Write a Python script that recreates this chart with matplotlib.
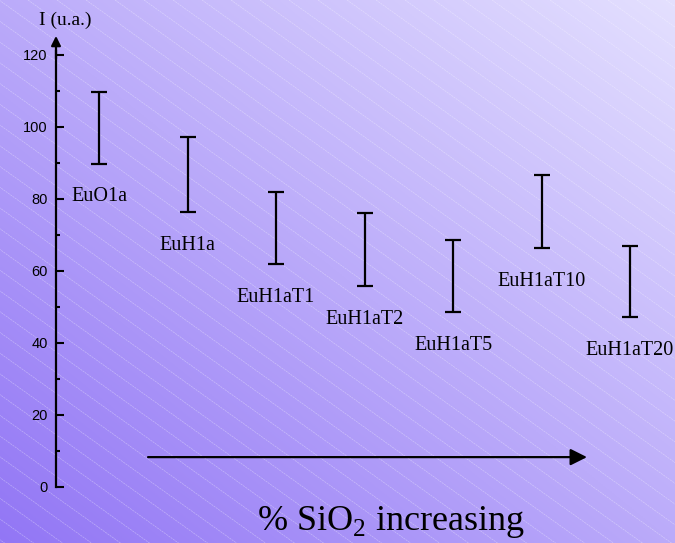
import numpy as np
import matplotlib
matplotlib.use('Agg')
import matplotlib.pyplot as plt
from matplotlib.lines import Line2D

# samples and intensity ranges (u.a.)
samples = ['EuO1a', 'EuH1a', 'EuH1aT1', 'EuH1aT2', 'EuH1aT5', 'EuH1aT10', 'EuH1aT20']
low = [89.8, 76.4, 61.9, 55.8, 48.6, 66.4, 47.2]
high = [109.8, 97.2, 81.9, 76.1, 68.6, 86.7, 67.0]
yticks = [0, 20, 40, 60, 80, 100, 120]

plt.rcParams['mathtext.fontset'] = 'custom'
plt.rcParams['mathtext.rm'] = 'Liberation Serif'

W, H = 675, 543
fig = plt.figure(figsize=(W / 100, H / 100), dpi=100)

# background: diagonal gradient with faint white hatch lines
bg = fig.add_axes([0, 0, 1, 1])
bg.set_axis_off()
xx, yy = np.meshgrid(np.linspace(0, 1, 300), np.linspace(0, 1, 240))
t = (xx + yy) / 2
c0 = np.array([146, 118, 245]) / 255
c1 = np.array([228, 224, 255]) / 255
img = c0[None, None, :] * (1 - t[..., None]) + c1[None, None, :] * t[..., None]
bg.imshow(img, origin='lower', extent=[0, 1, 0, 1], aspect='auto')
bg.set_xlim(0, 1)
bg.set_ylim(0, 1)
slope = 0.715
for x0 in np.arange(-900, W + 30, 29):
    xs = np.array([x0, x0 + 1200])
    ys = slope * (xs - x0)
    bg.add_line(Line2D(xs / W, 1 - ys / H, color='white', lw=0.5, alpha=0.35,
                       ls=(0, (3, 1))))

# main axes
ax = fig.add_axes([0, 0, 1, 1])
ax.patch.set_alpha(0)
x = np.arange(len(samples))
xmin = -99 / 88.5
ax.set_xlim(xmin, xmin + W / 88.5)
ax.set_ylim((487 - H) / 3.6, 487 / 3.6)

mid = (np.array(low) + np.array(high)) / 2
err = (np.array(high) - np.array(low)) / 2
ax.errorbar(x, mid, yerr=err, fmt='none', ecolor='black', elinewidth=1.6,
            capsize=6, capthick=1.6)

for xi, name, lo in zip(x, samples, low):
    ax.text(xi, lo - 9.2, name, ha='center', va='center', fontsize=14.5,
            family='Liberation Serif')

x_axis = -43 / 88.5
for s in ['top', 'right', 'bottom']:
    ax.spines[s].set_visible(False)
ax.spines['left'].set_position(('data', x_axis))
ax.spines['left'].set_bounds(0, 121)
ax.spines['left'].set_linewidth(1.6)
ax.annotate('', xy=(x_axis, 125.3), xytext=(x_axis, 119),
            arrowprops=dict(arrowstyle='-|>', color='black', lw=1.6,
                            mutation_scale=14, shrinkA=0, shrinkB=0))
ax.set_yticks(yticks)
ax.set_yticks(np.arange(10, 120, 20), minor=True)
ax.tick_params(axis='y', which='major', direction='in', length=5.5, width=1.5,
               pad=6, labelsize=10.5)
ax.tick_params(axis='y', which='minor', direction='in', length=3, width=1.5)
for lab in ax.get_yticklabels():
    lab.set_family('Liberation Sans')
ax.set_xticks([])

ax.text(-0.384, 129.7, 'I (u.a.)', ha='center', va='center', fontsize=14,
        family='Liberation Serif')

# bottom arrow and caption
ax.annotate('', xy=(5.514, 8.3), xytext=(0.554, 8.3),
            arrowprops=dict(arrowstyle='-|>', color='black', lw=1.6,
                            mutation_scale=25, shrinkA=0, shrinkB=0))
ax.text(3.3, -9.7, r'% SiO$_\mathrm{2}$ increasing', ha='center', va='center',
        fontsize=26, family='Liberation Serif')

fig.savefig('out.png', dpi=100)
